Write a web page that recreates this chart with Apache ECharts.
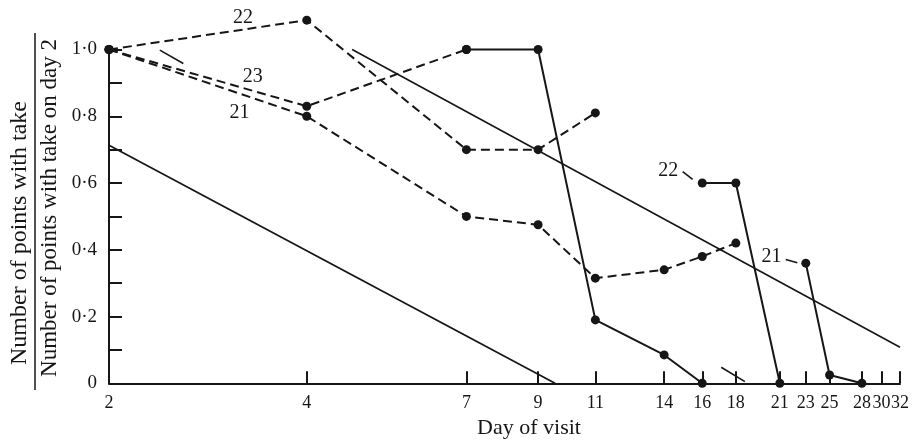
<!DOCTYPE html>
<html>
<head>
<meta charset="utf-8">
<script src="https://cdn.jsdelivr.net/npm/echarts@6/dist/echarts.min.js"></script>
<style>
  html, body { margin: 0; padding: 0; background: #fff; }
  #chart { width: 922px; height: 442px; }
</style>
</head>
<body>
<div id="chart"></div>
<script>
// Day-of-visit axis (log scale) and proportion axis
const dayTicks = [2, 4, 7, 9, 11, 14, 16, 18, 21, 23, 25, 28, 30, 32];
const takeMin = 0;
const takeMax = 1.0;
const takeStep = 0.1;

// Broken-line series (early visits)
const dash22Days = [2, 4, 7, 9, 11];
const dash22Take = [1.0, 1.088, 0.70, 0.70, 0.81];
const dash23Days = [2, 4, 7];
const dash23Take = [1.0, 0.83, 1.0];
const dash21Days = [2, 4, 7, 9, 11, 14, 16, 18];
const dash21Take = [1.0, 0.80, 0.50, 0.475, 0.315, 0.34, 0.38, 0.42];

// Solid-line series
const solid23Days = [7, 9, 11, 14, 16];
const solid23Take = [1.0, 1.0, 0.19, 0.085, 0];
const solid22Days = [16, 18, 21];
const solid22Take = [0.60, 0.60, 0];
const solid21Days = [23, 25, 28];
const solid21Take = [0.36, 0.025, 0];

// Straight reference lines
const refLowDays = [2, 9.55];
const refLowTake = [0.713, 0];
const refHighDays = [4.69, 32];
const refHighTake = [1.0, 0.108];

// Short slope strokes
const strokeTopDays = [2.39, 2.595];
const strokeTopTake = [0.998, 0.958];
const strokeLowDays = [17.1, 18.58];
const strokeLowTake = [0.048, 0.005];

// Series tags and their leader dashes
const tagDays = [3.2, 3.31, 3.16, 14.2, 20.4];
const tagTake = [1.094, 0.917, 0.812, 0.636, 0.379];
const tagText = ['22', '23', '21', '22', '21'];
const lead22Days = [14.94, 15.47];
const lead22Take = [0.634, 0.611];
const lead21Days = [21.44, 22.33];
const lead21Take = [0.371, 0.361];

const INK = '#161616';
const SERIF = '"Liberation Serif", "DejaVu Serif", serif';

function pairs(xs, ys) { return xs.map((x, i) => [x, ys[i]]); }

function markedLine(xs, ys, dashed) {
  return {
    type: 'line', clip: false, silent: true,
    data: pairs(xs, ys),
    symbol: 'circle', symbolSize: 9, showSymbol: true,
    itemStyle: { color: INK },
    lineStyle: { color: INK, width: 2, type: dashed ? [9, 5] : 'solid' },
    z: 3
  };
}
function plainLine(xs, ys, width) {
  return {
    type: 'line', clip: false, silent: true,
    data: pairs(xs, ys),
    symbol: 'none',
    lineStyle: { color: INK, width: width, type: 'solid' },
    z: 2
  };
}

const chart = echarts.init(document.getElementById('chart'), null, { renderer: 'canvas' });

chart.setOption({
  backgroundColor: '#fff',
  animation: false,
  grid: { left: 109, right: 22, top: 49.5, bottom: 58.7, containLabel: false },
  xAxis: {
    type: 'log', logBase: 2, min: 2, max: 32,
    axisLine: { show: true, lineStyle: { color: INK, width: 2 } },
    axisTick: { show: true, inside: true, length: 12, customValues: dayTicks,
                lineStyle: { color: INK, width: 2 } },
    axisLabel: { show: true, customValues: dayTicks, margin: 11,
                 showMinLabel: true, showMaxLabel: true, hideOverlap: false,
                 color: INK, fontFamily: SERIF, fontSize: 18,
                 formatter: v => String(Math.round(v)) },
    splitLine: { show: false },
    minorTick: { show: false }
  },
  yAxis: {
    type: 'value', min: takeMin, max: takeMax, interval: takeStep,
    axisLine: { show: true, lineStyle: { color: INK, width: 2 } },
    axisTick: { show: true, inside: true, length: 13, lineStyle: { color: INK, width: 2 } },
    axisLabel: {
      show: true, margin: 12, color: INK, fontFamily: SERIF, fontSize: 19,
      formatter: function (v) {
        const k = Math.round(v * 10);
        if (k % 2 !== 0) return '';
        if (k === 0) return '0';
        return (k / 10).toFixed(1).replace('.', '\u00B7');
      }
    },
    splitLine: { show: false }
  },
  graphic: [
    { type: 'text', x: 20, y: 233, rotation: Math.PI / 2,
      style: { text: 'Number of points with take', font: '24px ' + SERIF, fill: INK,
               textAlign: 'center', textVerticalAlign: 'middle', align: 'center', verticalAlign: 'middle' } },
    { type: 'line', shape: { x1: 35, y1: 33, x2: 35, y2: 390 },
      style: { stroke: INK, lineWidth: 1.5 } },
    { type: 'text', x: 50, y: 208, rotation: Math.PI / 2,
      style: { text: 'Number of points with take on day 2', font: '23px ' + SERIF, fill: INK,
               textAlign: 'center', textVerticalAlign: 'middle', align: 'center', verticalAlign: 'middle' } },
    { type: 'text', x: 529, y: 428,
      style: { text: 'Day of visit', font: '22px ' + SERIF, fill: INK,
               textAlign: 'center', textVerticalAlign: 'middle', align: 'center', verticalAlign: 'middle' } }
  ],
  series: [
    plainLine(refLowDays, refLowTake, 1.8),
    plainLine(refHighDays, refHighTake, 1.6),
    plainLine(strokeTopDays, strokeTopTake, 1.6),
    plainLine(strokeLowDays, strokeLowTake, 1.6),
    plainLine(lead22Days, lead22Take, 1.6),
    plainLine(lead21Days, lead21Take, 1.6),
    markedLine(dash22Days, dash22Take, true),
    markedLine(dash23Days, dash23Take, true),
    markedLine(dash21Days, dash21Take, true),
    markedLine(solid23Days, solid23Take, false),
    markedLine(solid22Days, solid22Take, false),
    markedLine(solid21Days, solid21Take, false),
    {
      type: 'scatter', clip: false, silent: true,
      data: tagDays.map((d, i) => ({ value: [d, tagTake[i]], name: tagText[i] })),
      symbolSize: 1, itemStyle: { color: '#fff', opacity: 1 },
      label: { show: true, position: 'inside', formatter: p => p.name,
               color: INK, opacity: 1, textBorderWidth: 0,
               fontFamily: SERIF, fontSize: 20 },
      labelLayout: { hideOverlap: false },
      z: 4
    }
  ]
});
</script>
</body>
</html>
